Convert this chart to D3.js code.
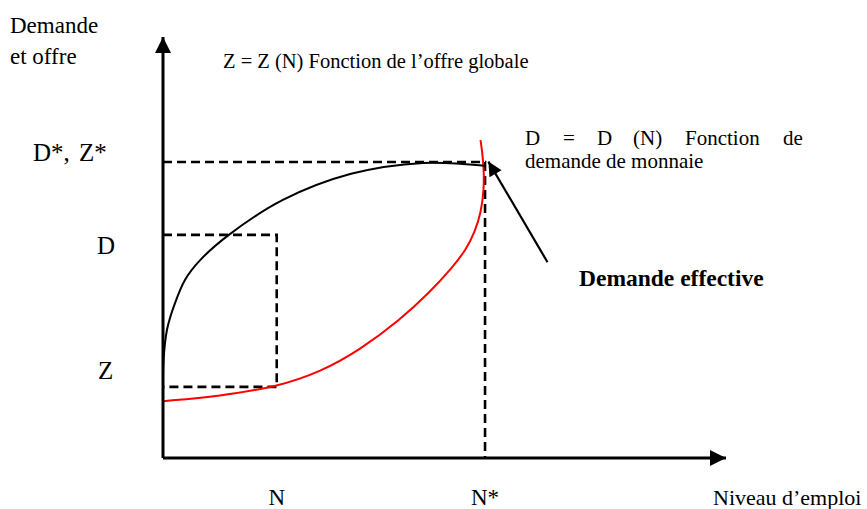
<!DOCTYPE html>
<html>
<head>
<meta charset="utf-8">
<script src="https://cdn.jsdelivr.net/npm/d3@7"></script>
<style>
  body { margin: 0; background: #fff; }
  svg text { font-family: "Liberation Serif", "Times New Roman", serif; fill: #000; }
</style>
</head>
<body>
<svg width="867" height="509"></svg>
<script>
// offre globale Z(N) (courbe rouge) : niveau d'emploi / montant
var offreN = [0, 10.1, 20.2, 27.9, 35.0, 42.1, 47.4, 51.3, 53.8, 55.4, 56.5, 57.0, 57.0, 56.7, 56.4];
var offreZ = [13.5, 14.7, 16.9, 20.4, 25.7, 32.8, 39.4, 45.1, 49.4, 53.7, 58.4, 63.7, 68.4, 72.7, 75.5];

// demande D(N) (courbe noire)
var demandeN = [0, 0.1, 0.7, 2.0, 3.9, 6.6, 11.7, 21.3, 33.4, 46.2, 57.2];
var demandeD = [16.9, 23.3, 30.4, 36.3, 42.3, 47.0, 53.0, 61.3, 67.5, 70.1, 69.4];

// reperes sur les axes
var xTickLabels = ["N", "N*"];
var xTickValues = [20.2, 57.2];
var yTickLabels = ["D*, Z*", "D", "Z"];
var yTickValues = [70.3, 53.0, 16.9];

// fleche "Demande effective" (depart -> pointe)
var flecheN = [68.3, 57.8];
var flecheY = [46.5, 70.4];

const svg = d3.select("svg");

// echelles
const x = d3.scaleLinear().domain([0, 100]).range([163, 726]);
const y = d3.scaleLinear().domain([0, 100]).range([458, 37]);

// fleches
const defs = svg.append("defs");
defs.append("marker")
  .attr("id", "tete")
  .attr("viewBox", "0 0 10 10")
  .attr("refX", 10).attr("refY", 5)
  .attr("markerWidth", 16).attr("markerHeight", 16)
  .attr("markerUnits", "userSpaceOnUse")
  .attr("orient", "auto")
  .append("path").attr("d", "M0,0 L10,5 L0,10 Z").attr("fill", "#000");
defs.append("marker")
  .attr("id", "tete2")
  .attr("viewBox", "0 0 10 10")
  .attr("refX", 10).attr("refY", 5)
  .attr("markerWidth", 16).attr("markerHeight", 14)
  .attr("markerUnits", "userSpaceOnUse")
  .attr("orient", "auto")
  .append("path").attr("d", "M0,0 L10,5 L0,10 Z").attr("fill", "#000");

const line = d3.line()
  .x(d => x(d[0]))
  .y(d => y(d[1]));
const smooth = d3.line()
  .x(d => x(d[0]))
  .y(d => y(d[1]))
  .curve(d3.curveCatmullRom.alpha(0.5));
const smoothB = d3.line()
  .x(d => x(d[0]))
  .y(d => y(d[1]))
  .curve(d3.curveBasis);

// pointilles (D*, N*, D, N, Z)
const dashed = [
  [[0, yTickValues[0]], [xTickValues[1], yTickValues[0]], [xTickValues[1], 0]],
  [[0, yTickValues[1]], [xTickValues[0], yTickValues[1]], [xTickValues[0], yTickValues[2]], [0, yTickValues[2]]]
];
svg.selectAll(".pointille")
  .data(dashed)
  .enter()
  .append("path")
  .attr("class", "pointille")
  .attr("d", line)
  .attr("fill", "none")
  .attr("stroke", "#000")
  .attr("stroke-width", 2.6)
  .attr("stroke-dasharray", "9,5");

// courbe d'offre (rouge)
svg.append("path")
  .attr("d", smoothB(offreN.map((n, i) => [n, offreZ[i]])))
  .attr("fill", "none")
  .attr("stroke", "#ff0000")
  .attr("stroke-width", 2);

// courbe de demande (noire)
svg.append("path")
  .attr("d", smooth(demandeN.map((n, i) => [n, demandeD[i]])))
  .attr("fill", "none")
  .attr("stroke", "#000")
  .attr("stroke-width", 2);

// axes
svg.append("path")
  .attr("d", line([[0, 0], [0, 100]]))
  .attr("stroke", "#000").attr("stroke-width", 3)
  .attr("marker-end", "url(#tete)");
svg.append("path")
  .attr("d", line([[0, 0], [100, 0]]))
  .attr("stroke", "#000").attr("stroke-width", 3)
  .attr("marker-end", "url(#tete)");

// fleche demande effective
svg.append("path")
  .attr("d", line(flecheN.map((n, i) => [n, flecheY[i]])))
  .attr("stroke", "#000").attr("stroke-width", 2.2)
  .attr("marker-end", "url(#tete2)");

// etiquettes axe vertical
var yLabX = [33, 97, 98];
var yDy = [-1, 19, -8];
svg.selectAll(".ylab")
  .data(yTickLabels)
  .enter()
  .append("text")
  .attr("class", "ylab")
  .attr("x", (d, i) => yLabX[i])
  .attr("y", (d, i) => y(yTickValues[i]) + yDy[i])
  .style("font-size", "25px")
  .style("word-spacing", "3px")
  .text(d => d);

// etiquettes axe horizontal
svg.selectAll(".xlab")
  .data(xTickLabels)
  .enter()
  .append("text")
  .attr("class", "xlab")
  .attr("x", (d, i) => x(xTickValues[i]))
  .attr("y", 505)
  .attr("text-anchor", "middle")
  .style("font-size", "23px")
  .text(d => d);

// titres des axes
svg.append("text").attr("x", 10).attr("y", 33).style("font-size", "23px").text("Demande");
svg.append("text").attr("x", 10).attr("y", 64).style("font-size", "23px").text("et offre");
svg.append("text").attr("x", 713).attr("y", 505).style("font-size", "22px").text("Niveau d\u2019emploi");

// annotations
svg.append("text").attr("x", 223).attr("y", 68).style("font-size", "20.5px")
  .text("Z = Z (N) Fonction de l\u2019offre globale");

// ligne justifiee : mots places un par un
var motsD = ["D", "=", "D", "(N)", "Fonction", "de"];
var motsX = [525, 563, 597, 633, 685, 783];
svg.selectAll(".motD")
  .data(motsD)
  .enter()
  .append("text")
  .attr("class", "motD")
  .attr("x", (d, i) => motsX[i])
  .attr("y", 145)
  .style("font-size", "21px")
  .text(d => d);
svg.append("text").attr("x", 525).attr("y", 168).style("font-size", "21px")
  .text("demande de monnaie");

svg.append("text").attr("x", 579).attr("y", 286)
  .style("font-size", "23.5px").style("font-weight", "bold")
  .text("Demande effective");
</script>
</body>
</html>
